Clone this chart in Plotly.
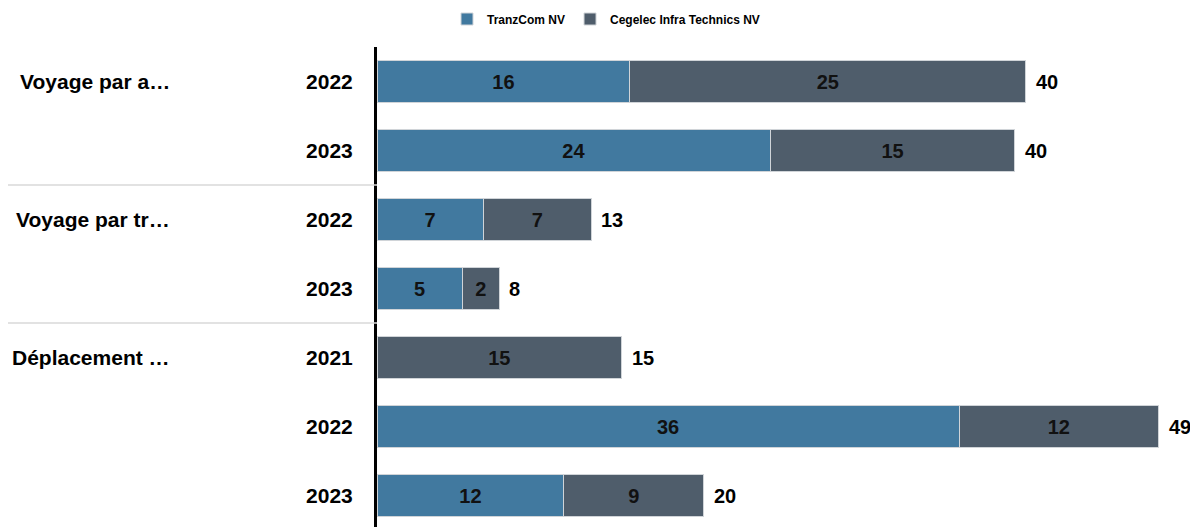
import plotly.graph_objects as go

groups = ["Voyage par a…", "Voyage par a…", "Voyage par tr…", "Voyage par tr…",
          "Déplacement …", "Déplacement …", "Déplacement …"]
years = ["2022", "2023", "2022", "2023", "2021", "2022", "2023"]
tranzcom = [15.7, 24.45, 6.6, 5.3, None, 36.15, 11.6]
cegelec = [24.6, 15.15, 6.7, 2.3, 15.2, 12.4, 8.7]
series_names = ["TranzCom NV", "Cegelec Infra Technics NV"]
colors = ["#41799f", "#4f5d6b"]

pos = list(range(len(years)))
totals = [(a or 0) + (b or 0) for a, b in zip(tranzcom, cegelec)]

FONT = "Arial, Liberation Sans, sans-serif"
L, T = 369, 39
PW = 1198 - L

fig = go.Figure()
for name, vals, col in zip(series_names, [tranzcom, cegelec], colors):
    fig.add_trace(go.Bar(
        y=pos, x=vals, name=name, orientation="h",
        marker=dict(color=col, line=dict(color="#d0d4d8", width=1)),
        texttemplate="<b>%{x:.0f}</b>", textposition="inside",
        insidetextanchor="middle", textangle=0, constraintext="none",
        textfont=dict(family=FONT, size=20, color="#111111"),
        hoverinfo="skip",
    ))

annotations = []
# totals at the end of each stacked bar
for p, t in zip(pos, totals):
    annotations.append(dict(
        x=t, xref="x", y=p, yref="y", text=f"<b>{t:.0f}</b>",
        showarrow=False, xanchor="left", yanchor="middle", xshift=8,
        font=dict(family=FONT, size=20, color="#000000")))

# group labels (first row of each group) and separators
shapes = []
prev = None
for i, g in enumerate(groups):
    if g != prev:
        annotations.append(dict(
            x=(172 - 377) / PW, xref="paper", y=i, yref="y", text=f"<b>{g}</b>",
            showarrow=False, xanchor="right", yanchor="middle",
            font=dict(family=FONT, size=21, color="#000000")))
        if prev is not None:
            shapes.append(dict(type="line", xref="paper", yref="y",
                               x0=(8 - 377) / PW, x1=0, y0=i - 0.5, y1=i - 0.5,
                               line=dict(color="#d9d9d9", width=1.5)))
        prev = g

fig.update_layout(
    width=1198, height=527,
    margin=dict(l=L, r=0, t=T, b=0, autoexpand=False),
    barmode="stack", bargap=0.38,
    plot_bgcolor="white", paper_bgcolor="white",
    font=dict(family=FONT, color="#000000"),
    showlegend=True,
    legend=dict(orientation="h", x=(606 - 377) / PW, xanchor="center",
                y=1 + (T - 11) / (527 - T), yanchor="middle",
                font=dict(family=FONT, size=12, color="#000000", weight="bold"),
                traceorder="normal", itemwidth=30),
    xaxis=dict(range=[0, PW / 16.1], showgrid=False, zeroline=False,
               showticklabels=False, showline=False),
    yaxis=dict(range=[(527 - T) / 69 - 0.5, -0.5], tickvals=pos,
               ticktext=[f"<b>{y}</b>" for y in years],
               showgrid=False, zeroline=False, showline=True, linecolor="#000000",
               linewidth=3, ticks="", ticklabelstandoff=17,
               tickfont=dict(family=FONT, size=21, color="#000000")),
    annotations=annotations, shapes=shapes,
)

fig.write_html("out.html")
